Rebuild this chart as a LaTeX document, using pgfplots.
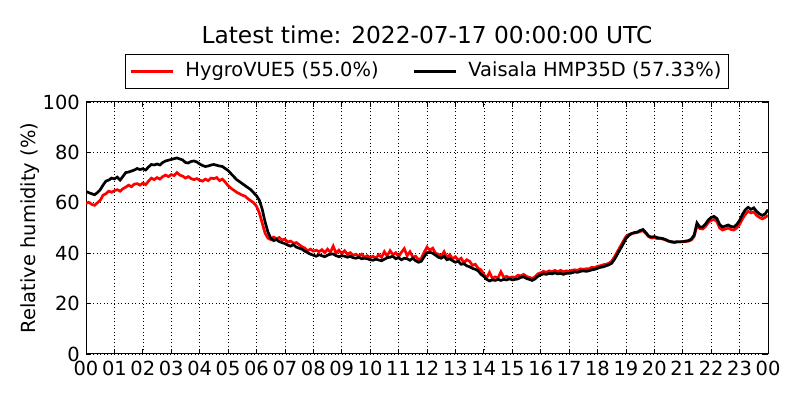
\documentclass[border=0pt]{standalone}
\usepackage{fontspec}
\setmainfont{DejaVu Sans}
\usepackage{pgfplots}
\pgfplotsset{compat=1.18}
\begin{document}
\fontsize{19.44bp}{23bp}\selectfont
\begin{tikzpicture}
\useasboundingbox (0,0) rectangle (800bp,400bp);
\begin{axis}[
  at={(86bp,46bp)}, anchor=south west,
  width=682bp, height=252bp, scale only axis,
  xmin=0, xmax=24, ymin=0, ymax=100,
  xtick={0,1,...,24},
  xticklabels={00,01,02,03,04,05,06,07,08,09,10,11,12,13,14,15,16,17,18,19,20,21,22,23,00},
  ytick={0,20,40,60,80,100},
  /pgf/number format/assume math mode=true,
  grid=major,
  grid style={black, line width=0.6bp, dash pattern=on 1bp off 2.5bp},
  axis line style={black, line width=1bp},
  major tick length=5bp,
  tick style={black, line width=0.8bp},
  xticklabel style={inner sep=2bp, yshift=-5bp},
  yticklabel style={inner sep=2bp, xshift=-4bp},
  ylabel={Relative humidity (\%)},
  ylabel style={at={(axis description cs:-0.0821,0.5)}, anchor=center},
  title={Latest time: 2022-07-17 00:00:00 UTC},
  title style={at={(axis description cs:0.5,1)}, anchor=base, yshift=53bp, font=\fontsize{23.3bp}{28bp}\selectfont},
  legend columns=2,
  legend cell align=left,
  legend style={at={(axis description cs:0.5,1)}, anchor=south, yshift=13bp,
    draw=black, line width=1bp, inner xsep=4bp, inner ysep=4.5bp,
    nodes={inner sep=3bp, text depth=4.5bp, text height=14.5bp},
    /tikz/every odd column/.append style={column sep=8bp},
    /tikz/every even column/.append style={column sep=31bp}},
]
\addplot[red, line width=2.7bp, legend image code/.code={\draw[red, line width=2.8bp] (0bp,0bp) -- (42bp,0bp);}] coordinates {
(0.0,59.8)(0.1,60.2)(0.2,59.4)(0.3,59.0)(0.4,60.0)(0.5,61.0)(0.6,63.0)(0.7,63.6)(0.8,64.6)(0.9,64.2)
(1.0,64.8)(1.1,65.2)(1.2,64.6)(1.3,65.6)(1.4,66.2)(1.5,67.0)(1.6,66.4)(1.7,67.4)(1.8,67.6)(1.9,67.0)
(2.0,67.8)(2.1,67.2)(2.2,68.6)(2.3,69.8)(2.4,69.2)(2.5,70.0)(2.6,69.4)(2.7,70.4)(2.8,71.0)(2.9,70.4)
(3.0,71.2)(3.1,70.8)(3.2,72.0)(3.3,71.0)(3.4,70.6)(3.5,69.8)(3.6,70.4)(3.7,69.6)(3.8,69.2)(3.9,69.6)
(4.0,69.0)(4.1,68.6)(4.2,69.4)(4.3,68.8)(4.4,69.8)(4.5,69.6)(4.6,70.0)(4.7,68.8)(4.8,69.4)(4.9,68.2)
(5.0,66.8)(5.1,65.8)(5.2,65.0)(5.3,64.2)(5.4,63.6)(5.5,63.0)(5.6,62.6)(5.7,61.6)(5.8,60.8)(5.9,60.0)
(6.0,58.6)(6.1,56.0)(6.2,52.0)(6.3,48.0)(6.4,46.0)(6.5,45.4)(6.6,46.4)(6.7,45.8)(6.8,46.2)(6.9,45.2)
(7.0,45.6)(7.1,44.4)(7.2,44.8)(7.3,44.0)(7.4,44.2)(7.5,43.4)(7.6,42.6)(7.7,42.0)(7.8,41.0)(7.9,41.6)
(8.0,40.8)(8.1,41.2)(8.2,40.6)(8.3,41.4)(8.4,40.2)(8.5,41.6)(8.6,40.4)(8.7,42.8)(8.8,40.0)(8.9,41.2)
(9.0,39.8)(9.1,41.0)(9.2,39.6)(9.3,40.2)(9.4,39.2)(9.5,39.6)(9.6,38.8)(9.7,39.6)(9.8,38.4)(9.9,39.0)
(10.0,38.2)(10.1,38.8)(10.2,38.0)(10.3,39.4)(10.4,38.4)(10.5,40.6)(10.6,38.8)(10.7,41.0)(10.8,39.4)(10.9,40.2)
(11.0,38.6)(11.1,40.4)(11.2,41.8)(11.3,39.0)(11.4,40.6)(11.5,38.4)(11.6,38.8)(11.7,37.4)(11.8,38.0)(11.9,40.4)
(12.0,42.4)(12.1,41.2)(12.2,42.0)(12.3,40.0)(12.4,39.6)(12.5,38.8)(12.6,40.6)(12.7,38.2)(12.8,39.4)(12.9,37.8)
(13.0,38.6)(13.1,37.2)(13.2,38.0)(13.3,36.2)(13.4,37.4)(13.5,36.8)(13.6,35.2)(13.7,35.6)(13.8,34.0)(13.9,33.4)
(14.0,31.6)(14.1,30.2)(14.2,32.4)(14.3,30.0)(14.4,30.6)(14.5,30.2)(14.6,32.6)(14.7,30.4)(14.8,30.8)(14.9,30.2)
(15.0,30.6)(15.1,30.4)(15.2,31.2)(15.3,31.0)(15.4,31.6)(15.5,30.8)(15.6,30.4)(15.7,30.0)(15.8,30.6)(15.9,31.8)
(16.0,32.2)(16.1,32.8)(16.2,32.4)(16.3,33.0)(16.4,32.6)(16.5,33.2)(16.6,32.6)(16.7,33.2)(16.8,32.6)(16.9,33.0)
(17.0,32.8)(17.1,33.2)(17.2,33.4)(17.3,33.2)(17.4,33.8)(17.5,33.6)(17.6,33.8)(17.7,33.8)(17.8,34.4)(17.9,34.2)
(18.0,34.8)(18.1,35.0)(18.2,35.4)(18.3,35.6)(18.4,36.0)(18.5,36.8)(18.6,38.6)(18.7,40.6)(18.8,42.6)(18.9,44.6)
(19.0,46.6)(19.1,47.4)(19.2,47.8)(19.3,48.0)(19.4,48.2)(19.5,48.6)(19.6,49.0)(19.7,47.8)(19.8,46.6)(19.9,46.0)
(20.0,46.2)(20.1,45.8)(20.2,45.8)(20.3,45.6)(20.4,45.2)(20.5,44.8)(20.6,44.4)(20.7,44.2)(20.8,44.4)(20.9,44.4)
(21.0,44.6)(21.1,44.6)(21.2,44.8)(21.3,45.2)(21.4,46.6)(21.5,50.8)(21.6,49.8)(21.7,49.6)(21.8,50.6)(21.9,52.2)
(22.0,53.0)(22.1,53.4)(22.2,52.6)(22.3,50.0)(22.4,49.2)(22.5,49.6)(22.6,50.0)(22.7,49.4)(22.8,49.2)(22.9,50.0)
(23.0,51.4)(23.1,53.6)(23.2,55.4)(23.3,56.6)(23.4,56.0)(23.5,56.4)(23.6,55.0)(23.7,54.2)(23.8,53.6)(23.9,54.2)
(24.0,55.0)
};
\addlegendentry{HygroVUE5 (55.0\%)}
\addplot[black, line width=2.7bp, legend image code/.code={\draw[black, line width=2.8bp] (0bp,0bp) -- (42bp,0bp);}] coordinates {
(0.0,64.5)(0.1,64.0)(0.2,63.6)(0.3,63.2)(0.4,64.0)(0.5,65.2)(0.6,67.0)(0.7,68.6)(0.8,69.0)(0.9,69.8)
(1.0,69.5)(1.1,70.2)(1.2,69.0)(1.3,70.5)(1.4,72.0)(1.5,72.2)(1.6,72.6)(1.7,73.0)(1.8,73.6)(1.9,73.2)
(2.0,73.5)(2.1,73.0)(2.2,74.2)(2.3,75.2)(2.4,75.0)(2.5,75.4)(2.6,75.0)(2.7,76.0)(2.8,76.6)(2.9,76.9)
(3.0,77.2)(3.1,77.5)(3.2,77.8)(3.3,77.4)(3.4,77.0)(3.5,76.0)(3.6,75.8)(3.7,76.4)(3.8,76.6)(3.9,76.2)
(4.0,75.4)(4.1,74.8)(4.2,74.4)(4.3,74.6)(4.4,75.0)(4.5,75.2)(4.6,74.9)(4.7,74.6)(4.8,74.4)(4.9,73.6)
(5.0,72.8)(5.1,71.6)(5.2,70.4)(5.3,69.2)(5.4,68.4)(5.5,67.6)(5.6,66.8)(5.7,66.0)(5.8,65.2)(5.9,64.0)
(6.0,62.8)(6.1,61.0)(6.2,57.5)(6.3,52.5)(6.4,48.5)(6.5,46.0)(6.6,45.0)(6.7,45.4)(6.8,44.6)(6.9,44.2)
(7.0,43.8)(7.1,43.2)(7.2,42.8)(7.3,43.4)(7.4,42.4)(7.5,42.0)(7.6,41.6)(7.7,40.8)(7.8,40.2)(7.9,39.6)
(8.0,39.2)(8.1,38.8)(8.2,39.4)(8.3,39.0)(8.4,38.6)(8.5,39.2)(8.6,39.6)(8.7,39.7)(8.8,39.0)(8.9,38.6)
(9.0,39.0)(9.1,38.8)(9.2,38.4)(9.3,38.8)(9.4,38.2)(9.5,38.0)(9.6,38.4)(9.7,37.8)(9.8,38.0)(9.9,37.8)
(10.0,37.4)(10.1,37.2)(10.2,37.6)(10.3,37.3)(10.4,37.0)(10.5,37.6)(10.6,38.2)(10.7,38.4)(10.8,38.8)(10.9,37.8)
(11.0,38.2)(11.1,37.4)(11.2,38.0)(11.3,37.8)(11.4,37.2)(11.5,38.0)(11.6,37.0)(11.7,36.4)(11.8,36.8)(11.9,38.6)
(12.0,40.2)(12.1,40.4)(12.2,40.0)(12.3,39.2)(12.4,38.4)(12.5,38.0)(12.6,38.8)(12.7,37.4)(12.8,37.8)(12.9,37.0)
(13.0,36.4)(13.1,36.8)(13.2,35.6)(13.3,35.8)(13.4,35.0)(13.5,34.6)(13.6,34.0)(13.7,33.6)(13.8,33.0)(13.9,31.6)
(14.0,30.8)(14.1,29.6)(14.2,29.0)(14.3,29.4)(14.4,29.2)(14.5,29.6)(14.6,29.2)(14.7,29.6)(14.8,29.4)(14.9,29.8)
(15.0,29.4)(15.1,29.6)(15.2,29.8)(15.3,30.4)(15.4,30.6)(15.5,30.0)(15.6,29.6)(15.7,29.2)(15.8,29.8)(15.9,30.8)
(16.0,31.4)(16.1,31.8)(16.2,31.6)(16.3,32.0)(16.4,31.8)(16.5,32.2)(16.6,31.8)(16.7,32.0)(16.8,31.6)(16.9,32.0)
(17.0,32.0)(17.1,32.2)(17.2,32.6)(17.3,32.4)(17.4,32.8)(17.5,33.0)(17.6,32.8)(17.7,33.0)(17.8,33.4)(17.9,33.6)
(18.0,34.0)(18.1,34.4)(18.2,34.6)(18.3,35.0)(18.4,35.4)(18.5,36.0)(18.6,37.6)(18.7,39.6)(18.8,41.6)(18.9,43.6)
(19.0,45.8)(19.1,47.0)(19.2,47.8)(19.3,48.2)(19.4,48.4)(19.5,49.0)(19.6,49.4)(19.7,48.2)(19.8,46.8)(19.9,46.4)
(20.0,46.6)(20.1,46.2)(20.2,46.0)(20.3,45.8)(20.4,45.4)(20.5,44.8)(20.6,44.6)(20.7,44.4)(20.8,44.6)(20.9,44.6)
(21.0,44.6)(21.1,44.8)(21.2,45.0)(21.3,45.6)(21.4,47.2)(21.5,52.0)(21.6,50.4)(21.7,50.4)(21.8,51.6)(21.9,53.2)
(22.0,54.2)(22.1,54.6)(22.2,53.8)(22.3,51.4)(22.4,50.4)(22.5,50.8)(22.6,51.2)(22.7,50.6)(22.8,50.4)(22.9,51.4)
(23.0,53.0)(23.1,55.4)(23.2,57.2)(23.3,58.2)(23.4,57.4)(23.5,58.0)(23.6,56.6)(23.7,55.6)(23.8,55.0)(23.9,55.6)
(24.0,57.3)
};
\addlegendentry{Vaisala HMP35D (57.33\%)}
\end{axis}
\end{tikzpicture}
\end{document}
